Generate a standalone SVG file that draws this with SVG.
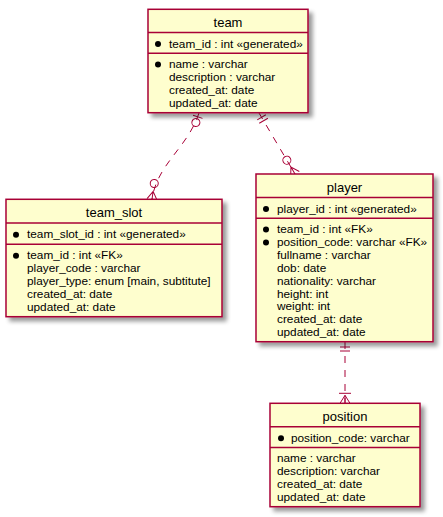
<svg xmlns="http://www.w3.org/2000/svg" width="443" height="517" viewBox="0 0 443 517">
<style>
.box{fill:#FEFECE;stroke:#A80036;stroke-width:1.5;filter:url(#sh)}
.sep{stroke:#A80036;stroke-width:1.5}
.t{font-family:"Liberation Sans",Arial,sans-serif;font-size:13px;fill:#000;text-anchor:middle}
.f{font-family:"Liberation Sans",Arial,sans-serif;font-size:11.8px;fill:#000}
.b{fill:#000}
.con{fill:none;stroke:#A80036;stroke-width:1;stroke-dasharray:7,7}
.m{fill:none;stroke:#A80036;stroke-width:1}
</style>
<defs>
<filter id="sh" x="-10%" y="-10%" width="130%" height="130%">
<feGaussianBlur in="SourceAlpha" stdDeviation="2"/>
<feOffset dx="4" dy="4"/>
<feComponentTransfer><feFuncA type="linear" slope="0.4"/></feComponentTransfer>
<feMerge><feMergeNode/><feMergeNode in="SourceGraphic"/></feMerge>
</filter>
<marker id="zeroOne" markerUnits="userSpaceOnUse" orient="auto-start-reverse" refX="0" refY="0" markerWidth="40" markerHeight="40" overflow="visible">
<line class="m" x1="-4" y1="-5" x2="-4" y2="5"/>
<circle class="m" cx="-10" cy="0" r="4"/>
</marker>
<marker id="oneOne" markerUnits="userSpaceOnUse" orient="auto-start-reverse" refX="0" refY="0" markerWidth="40" markerHeight="40" overflow="visible">
<line class="m" x1="-5" y1="-5" x2="-5" y2="5"/>
<line class="m" x1="-9" y1="-5" x2="-9" y2="5"/>
</marker>
<marker id="zeroMany" markerUnits="userSpaceOnUse" orient="auto" refX="0" refY="0" markerWidth="40" markerHeight="40" overflow="visible">
<circle class="m" cx="-16" cy="0" r="4"/>
<path class="m" d="M0,-5 L-8,0 L0,5 M-8,0 L0,0"/>
</marker>
<marker id="oneMany" markerUnits="userSpaceOnUse" orient="auto" refX="0" refY="0" markerWidth="40" markerHeight="40" overflow="visible">
<line class="m" x1="-10" y1="-6" x2="-10" y2="6"/>
<path class="m" d="M0,-5 L-8,0 L0,5 M-8,0 L0,0"/>
</marker>
</defs>
<rect width="443" height="517" fill="#FFFFFF"/>

<g id="connectors">
<path class="con" d="M199,113 C187.5,148 157,164 152,199.3" marker-start="url(#zeroOne)" marker-end="url(#zeroMany)"/>
<path class="con" d="M259,113 L295,174" marker-start="url(#oneOne)" marker-end="url(#zeroMany)"/>
<path class="con" d="M345,342 L345,403.3" marker-start="url(#oneOne)" marker-end="url(#oneMany)"/>
</g>

<g id="team">
<rect class="box" x="148" y="9.3" width="160" height="103.4"/>
<text class="t" x="228" y="26.5">team</text>
<line class="sep" x1="148" y1="32.5" x2="308" y2="32.5"/>
<circle class="b" cx="158" cy="44" r="3"/>
<text class="f" x="169" y="47.5">team_id : int «generated»</text>
<line class="sep" x1="148" y1="53.2" x2="308" y2="53.2"/>
<circle class="b" cx="158" cy="64.5" r="3"/>
<text class="f" x="169" y="68">name : varchar</text>
<text class="f" x="169" y="80.9">description : varchar</text>
<text class="f" x="169" y="93.8">created_at: date</text>
<text class="f" x="169" y="106.7">updated_at: date</text>
</g>

<g id="team_slot">
<rect class="box" x="6" y="199.3" width="216" height="117.4"/>
<text class="t" x="114" y="216.8">team_slot</text>
<line class="sep" x1="6" y1="223" x2="222" y2="223"/>
<circle class="b" cx="16" cy="234.8" r="3"/>
<text class="f" x="27" y="238.3">team_slot_id : int «generated»</text>
<line class="sep" x1="6" y1="244.2" x2="222" y2="244.2"/>
<circle class="b" cx="16" cy="255.8" r="3"/>
<text class="f" x="27" y="259.3">team_id : int «FK»</text>
<text class="f" x="27" y="272.2">player_code : varchar</text>
<text class="f" x="27" y="285.1">player_type: enum [main, subtitute]</text>
<text class="f" x="27" y="298">created_at: date</text>
<text class="f" x="27" y="310.9">updated_at: date</text>
</g>

<g id="player">
<rect class="box" x="256" y="174" width="177" height="167.7"/>
<text class="t" x="344.5" y="191.5">player</text>
<line class="sep" x1="256" y1="197.5" x2="433" y2="197.5"/>
<circle class="b" cx="266" cy="209" r="3"/>
<text class="f" x="277" y="212.5">player_id : int «generated»</text>
<line class="sep" x1="256" y1="218.2" x2="433" y2="218.2"/>
<circle class="b" cx="266" cy="229.5" r="3"/>
<circle class="b" cx="266" cy="242.4" r="3"/>
<text class="f" x="277" y="233">team_id : int «FK»</text>
<text class="f" x="277" y="245.9">position_code: varchar «FK»</text>
<text class="f" x="277" y="258.8">fullname : varchar</text>
<text class="f" x="277" y="271.7">dob: date</text>
<text class="f" x="277" y="284.6">nationality: varchar</text>
<text class="f" x="277" y="297.5">height: int</text>
<text class="f" x="277" y="310.4">weight: int</text>
<text class="f" x="277" y="323.3">created_at: date</text>
<text class="f" x="277" y="336.2">updated_at: date</text>
</g>

<g id="position">
<rect class="box" x="270" y="403.3" width="150" height="103.4"/>
<text class="t" x="345" y="420.8">position</text>
<line class="sep" x1="270" y1="426.8" x2="420" y2="426.8"/>
<circle class="b" cx="281" cy="438.3" r="3"/>
<text class="f" x="291" y="441.8">position_code: varchar</text>
<line class="sep" x1="270" y1="447.5" x2="420" y2="447.5"/>
<text class="f" x="277" y="462.3">name : varchar</text>
<text class="f" x="277" y="475.2">description: varchar</text>
<text class="f" x="277" y="488.1">created_at: date</text>
<text class="f" x="277" y="501">updated_at: date</text>
</g>
</svg>
